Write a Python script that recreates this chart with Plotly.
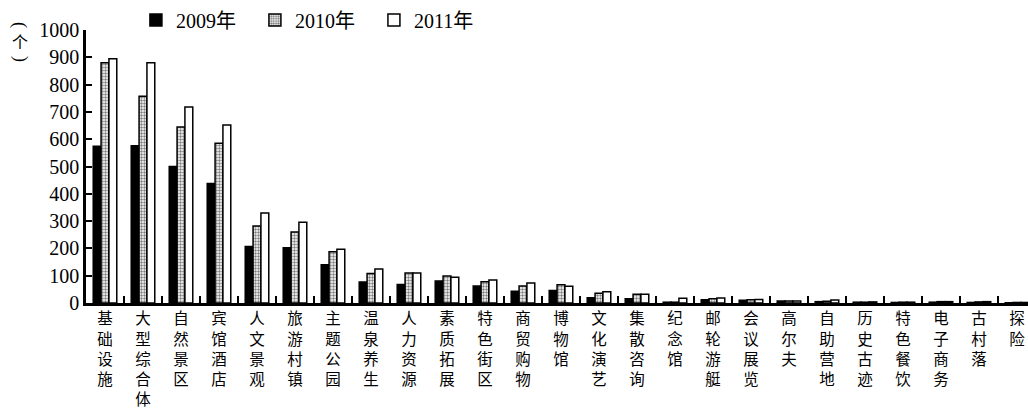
import plotly.graph_objects as go

# Tourism project counts by category, 2009-2011
categories = ["基础设施", "大型综合体", "自然景区", "宾馆酒店", "人文景观", "旅游村镇",
              "主题公园", "温泉养生", "人力资源", "素质拓展", "特色街区", "商贸购物",
              "博物馆", "文化演艺", "集散咨询", "纪念馆", "邮轮游艇", "会议展览",
              "高尔夫", "自助营地", "历史古迹", "特色餐饮", "电子商务", "古村落", "探险"]

values_2009 = [574, 576, 500, 438, 207, 202, 140, 77, 68, 81, 62, 43,
               46, 19, 16, 3, 12, 10, 7, 5, 3, 2, 3, 2, 1]
values_2010 = [880, 757, 645, 585, 282, 260, 188, 108, 110, 99, 78, 62,
               67, 36, 32, 3, 16, 12, 7, 6, 3, 3, 5, 4, 2]
values_2011 = [895, 880, 718, 652, 330, 296, 197, 125, 110, 94, 84, 73,
               61, 41, 32, 17, 18, 13, 7, 11, 4, 3, 5, 5, 2]

series_names = ["2009年", "2010年", "2011年"]
y_ticks = [0, 100, 200, 300, 400, 500, 600, 700, 800, 900, 1000]

# vertical (stacked-character) category labels
tick_text = ["<br>".join(list(c)) for c in categories]

NUM_FONT = "Liberation Serif, Noto Sans CJK SC, serif"
CJK_FONT = "Noto Sans CJK SC, sans-serif"

fig = go.Figure()
fig.add_trace(go.Bar(
    x=categories, y=values_2009, name=series_names[0],
    marker=dict(color="black", line=dict(color="black", width=1.5)),
))
fig.add_trace(go.Bar(
    x=categories, y=values_2010, name=series_names[1],
    marker=dict(color="white", line=dict(color="black", width=1.5),
                pattern=dict(shape=".", fgcolor="black", bgcolor="white",
                             size=3, solidity=0.5)),
))
fig.add_trace(go.Bar(
    x=categories, y=values_2011, name=series_names[2],
    marker=dict(color="white", line=dict(color="black", width=1.5)),
))

# unit label "(个)" written vertically: rotated parentheses around the character
unit_x = -0.0701
unit_parts = [
    dict(text="(", y=1.0183, textangle=90, font=dict(family=NUM_FONT, size=18, color="black")),
    dict(text="个", y=0.9597, textangle=0, font=dict(family=CJK_FONT, size=16, color="black")),
    dict(text=")", y=0.8938, textangle=90, font=dict(family=NUM_FONT, size=18, color="black")),
]
annotations = [
    dict(text=p["text"], xref="paper", yref="paper", x=unit_x, y=p["y"],
         xanchor="center", yanchor="middle", textangle=p["textangle"],
         showarrow=False, font=p["font"])
    for p in unit_parts
]

fig.update_layout(
    width=1028, height=413,
    margin=dict(l=86, r=0, t=30, b=110),
    plot_bgcolor="white", paper_bgcolor="white",
    barmode="group", bargap=0.38, bargroupgap=0,
    showlegend=True,
    legend=dict(orientation="h", x=0.053, xanchor="left", y=1.037, yanchor="middle",
                font=dict(family=NUM_FONT, size=20, color="black"),
                entrywidth=74, entrywidthmode="pixels",
                itemwidth=30, bgcolor="rgba(0,0,0,0)", traceorder="normal"),
    xaxis=dict(
        type="category",
        categoryorder="array", categoryarray=categories,
        tickmode="array", tickvals=categories, ticktext=tick_text,
        range=[-0.5, 24.29],
        showline=True, linecolor="black", linewidth=2.5,
        ticks="inside", tickson="boundaries", ticklen=7, tickwidth=2, tickcolor="black",
        tickfont=dict(family=CJK_FONT, size=15.5, color="black"),
        tickangle=0, showgrid=False, zeroline=False,
    ),
    yaxis=dict(
        range=[0, 1000], tickmode="array", tickvals=y_ticks,
        showline=True, linecolor="black", linewidth=2.5,
        ticks="inside", ticklen=6, tickwidth=2, tickcolor="black",
        tickfont=dict(family=NUM_FONT, size=20, color="black"),
        ticklabelstandoff=0,
        showgrid=False, zeroline=False,
    ),
    annotations=annotations,
)

fig.write_html("out.html")
